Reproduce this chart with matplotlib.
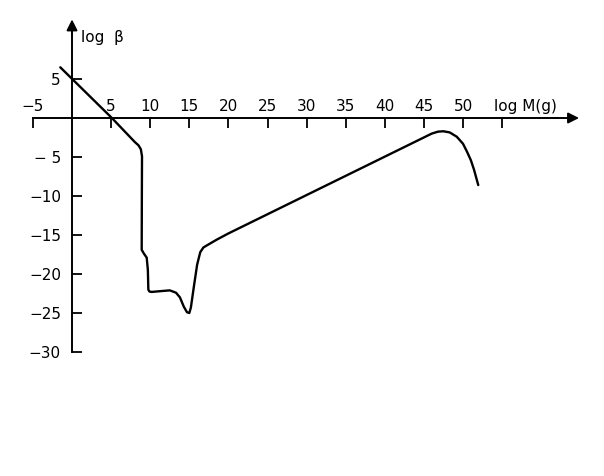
import numpy as np
import matplotlib.pyplot as plt

# curve: log M(g) vs log beta
log_m = [-1.5, 5.1, 8.05, 8.5, 8.8, 8.95, 8.93, 8.91, 9.2, 9.55, 9.7, 9.76, 9.9, 10.2,
         11.3, 12.5, 13.3, 13.8, 14.3, 14.7, 15.0, 15.2, 15.6, 16.0, 16.4, 16.8, 17.3,
         18.5, 20.0, 46.0, 46.8, 47.5, 48.3, 49.2, 50.0, 50.5, 51.0, 51.4, 51.95]
log_beta = [6.5, 0.0, -3.1, -3.5, -4.0, -4.9, -10.0, -16.9, -17.4, -17.9, -19.5, -22.0, -22.25, -22.3,
            -22.2, -22.1, -22.4, -23.0, -24.2, -24.9, -25.0, -24.3, -21.5, -18.8, -17.2, -16.6, -16.3,
            -15.6, -14.8, -2.0, -1.75, -1.7, -1.85, -2.4, -3.3, -4.3, -5.4, -6.6, -8.6]

xticks = [-5, 5, 10, 15, 20, 25, 30, 35, 40, 45, 50, 55]
xticklabels = ['\u22125', '5', '10', '15', '20', '25', '30', '35', '40', '45', '50', '']
yticks = [5, -5, -10, -15, -20, -25, -30]
yticklabels = ['5', '\u2212 5', '\u221210', '\u221215', '\u221220', '\u221225', '\u221230']

fig = plt.figure(figsize=(6.04, 4.76), dpi=100)
ax = fig.add_axes([0, 0, 1, 1])
ax.set_xlim(-9.21, 68.03)
ax.set_ylim(-45.9, 15.13)
ax.patch.set_alpha(0)

ax.plot(log_m, log_beta, color='black', lw=1.7, solid_joinstyle='round', solid_capstyle='round')

# axes through the origin
for s in ['right', 'bottom']:
    ax.spines[s].set_visible(False)
ax.spines['top'].set_position(('data', 0))
ax.spines['top'].set_bounds(-5, 62)
ax.spines['left'].set_position(('data', 0))
ax.spines['left'].set_bounds(-30, 11)
for s in ['top', 'left']:
    ax.spines[s].set_linewidth(1.4)

ax.xaxis.tick_top()
ax.set_xticks(xticks)
ax.set_xticklabels(xticklabels)
ax.tick_params(axis='x', direction='in', length=7, width=1.3, pad=3, labelsize=11)
ax.set_yticks(yticks)
ax.set_yticklabels(yticklabels)
ax.tick_params(axis='y', direction='in', length=7, width=1.3, pad=8, labelsize=11)

ax.annotate('', xy=(65.2, 0), xytext=(61, 0),
            arrowprops=dict(arrowstyle='-|>', color='black', lw=1.4, mutation_scale=16))
ax.annotate('', xy=(0, 13.0), xytext=(0, 10.5),
            arrowprops=dict(arrowstyle='-|>', color='black', lw=1.4, mutation_scale=16))

ax.text(1.2, 10.3, 'log  \u03b2', fontsize=11, ha='left', va='center')
ax.text(58.0, 0.5, 'log M(g)', fontsize=11, ha='center', va='bottom')

fig.savefig('out.png', dpi=100)
